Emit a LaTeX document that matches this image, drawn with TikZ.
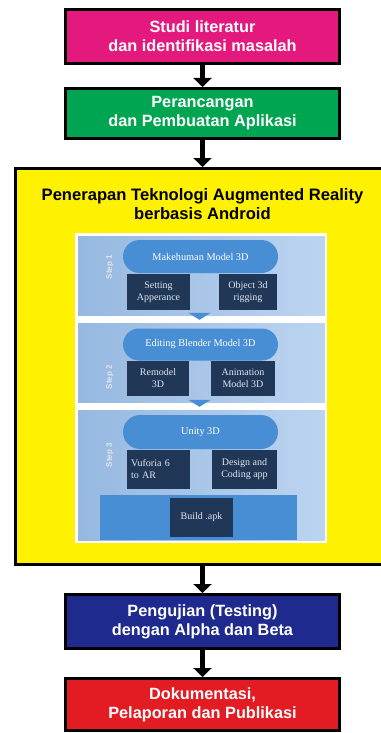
\documentclass[tikz,border=0pt]{standalone}
\usepackage{fontspec}
\setmainfont{Liberation Sans}
\newfontfamily\serifx{Liberation Serif}
\usetikzlibrary{arrows.meta,shapes.misc}
\definecolor{cmag}{RGB}{228,25,125}
\definecolor{cgreen}{RGB}{0,165,81}
\definecolor{cyel}{RGB}{255,242,0}
\definecolor{cblue}{RGB}{31,42,142}
\definecolor{cred}{RGB}{227,27,35}
\definecolor{panL}{RGB}{150,184,224}
\definecolor{panR}{RGB}{188,212,240}
\definecolor{pill}{RGB}{72,142,212}
\definecolor{darkb}{RGB}{32,55,88}
\definecolor{ltxt}{RGB}{225,230,240}
\tikzset{
  mainbox/.style={draw=black, line width=3pt, text=white, align=center,
    font=\bfseries\fontsize{16.3}{19}\selectfont, inner sep=0pt},
  bigarrow/.style={draw=black, line width=5pt, -{Triangle[width=18pt,length=9pt]}},
  panelbox/.style={draw=none, left color=panL, right color=panR, inner sep=0pt},
  pillbox/.style={rounded rectangle, fill=pill, text=white, inner sep=0pt,
    font=\serifx\fontsize{10.3}{12}\selectfont},
  darkbox/.style={fill=darkb, text=ltxt, inner sep=0pt, align=center,
    font=\serifx\fontsize{10}{12}\selectfont},
  steplbl/.style={rotate=90, text=ltxt, font=\bfseries\fontsize{8}{9}\selectfont},
  smallarr/.style={draw=pill, line width=10pt, -{Triangle[width=22pt,length=7pt]}},
}
\begin{document}
\begin{tikzpicture}[x=1pt,y=-1pt]
\useasboundingbox (0,0) rectangle (380,733);
% main boxes
\node[mainbox, fill=cmag, minimum width=274, minimum height=54] (b1) at (202.5,36.5)
  {Studi literatur\\dan identifikasi masalah};
\node[mainbox, fill=cgreen, minimum width=274, minimum height=50] (b2) at (202.5,113.5)
  {Perancangan\\dan Pembuatan Aplikasi};
\node[draw=black, line width=3pt, fill=cyel, minimum width=390, minimum height=396, inner sep=0pt] (yel) at (210,366.5) {};
\node[align=center, text=black, font=\bfseries\fontsize{16.6}{18.5}\selectfont] (title) at (202.5,204)
  {Penerapan Teknologi Augmented Reality\\berbasis Android};
\node[mainbox, fill=cblue, minimum width=274, minimum height=54] (b4) at (202.5,621.5)
  {Pengujian (Testing)\\dengan Alpha dan Beta};
\node[mainbox, fill=cred, minimum width=274, minimum height=52] (b5) at (202.5,704.5)
  {Dokumentasi,\\Pelaporan dan Publikasi};
\draw[bigarrow] (b1.south) -- (b2.north);
\draw[bigarrow] (b2.south) -- (b2.south |- yel.north);
\draw[bigarrow] (b4.north |- yel.south) -- (b4.north);
\draw[bigarrow] (b4.south) -- (b5.north);
% inner image
\node[fill=white, minimum width=252, minimum height=310, inner sep=0pt] (img) at (201,388) {};
\node[panelbox, minimum width=247, minimum height=79] (p1) at (201.5,275.5) {};
\node[panelbox, minimum width=247, minimum height=79] (p2) at (201.5,362.5) {};
\node[panelbox, minimum width=247, minimum height=130] (p3) at (201.5,475) {};
\draw[smallarr] ([xshift=-2pt]p1.south) -- ([xshift=-2pt,yshift=3pt]p2.north);
\draw[smallarr] ([xshift=-2pt]p2.south) -- ([xshift=-2pt,yshift=3pt]p3.north);
% step 1
\node[pillbox, minimum width=155, minimum height=33] (m1) at (200.5,256.5) {Makehuman Model 3D};
\node[darkbox, minimum width=63, minimum height=36] (s1a) at (158.5,292) {Setting\\Apperance};
\node[darkbox, minimum width=58, minimum height=36] (s1b) at (248,292) {Object 3d\\rigging};
\node[steplbl] (l1) at (110,267) {Step 1};
% step 2
\node[pillbox, minimum width=155, minimum height=32] (m2) at (200.5,344.5) {Editing Blender Model 3D};
\node[darkbox, minimum width=62, minimum height=35] (s2a) at (158,378.5) {Remodel\\3D};
\node[darkbox, minimum width=64, minimum height=35] (s2b) at (243,378.5) {Animation\\Model 3D};
\node[steplbl] (l2) at (110,377) {Step 2};
% step 3
\node[pillbox, minimum width=155, minimum height=34] (m3) at (200.5,432) {Unity 3D};
\node[darkbox, minimum width=63, minimum height=39, align=left, text width=55] (s3a) at (158.5,469.5) {Vuforia 6\\to AR};
\node[darkbox, minimum width=65, minimum height=39] (s3b) at (244.5,469.5) {Design and\\Coding app};
\node[steplbl] (l3) at (110,455) {Step 3};
\node[fill=pill, minimum width=197, minimum height=45, inner sep=0pt] (bo) at (198.5,517.5) {};
\node[darkbox, minimum width=63, minimum height=39] (bd) at (201.5,517.5) {Build .apk};
\end{tikzpicture}
\end{document}
